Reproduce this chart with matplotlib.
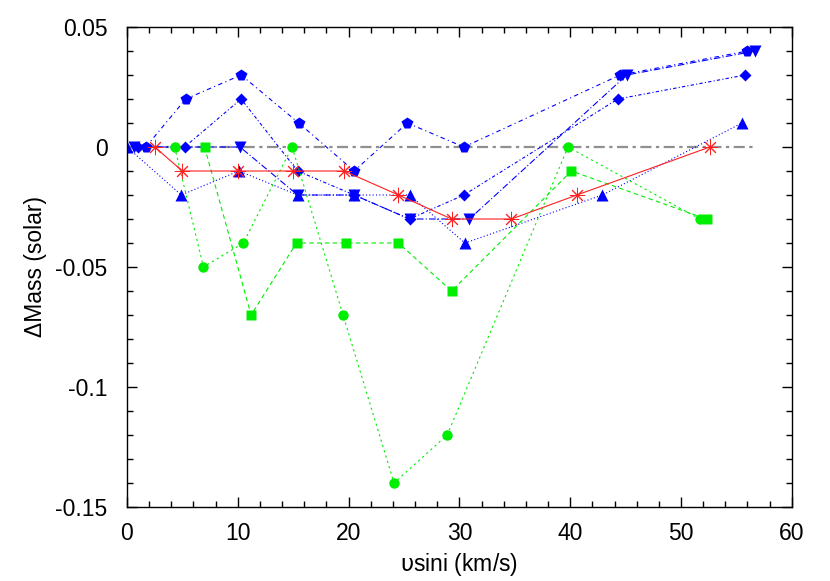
import numpy as np
import matplotlib
matplotlib.use("Agg")
import matplotlib.pyplot as plt
from matplotlib.ticker import MultipleLocator

plt.rcParams["font.family"] = ["Liberation Sans", "DejaVu Sans"]
plt.rcParams["mathtext.fontset"] = "dejavusans"

# reference line
ref_x = [0.0, 56.5]
ref_y = [0.0, 0.0]

# red asterisks
red_x = [2.5, 5.0, 10.0, 15.0, 19.6, 24.5, 29.3, 34.7, 40.6, 52.6]
red_y = [0.0, -0.01, -0.01, -0.01, -0.01, -0.02, -0.03, -0.03, -0.02, 0.0]

# green circles
circ_x = [4.3, 6.9, 10.5, 14.9, 19.5, 24.1, 28.9, 39.8, 51.7]
circ_y = [0.0, -0.05, -0.04, 0.0, -0.07, -0.14, -0.12, 0.0, -0.03]

# green squares
sq_x = [7.0, 11.2, 15.3, 19.8, 24.5, 29.3, 40.1, 52.3]
sq_y = [0.0, -0.07, -0.04, -0.04, -0.04, -0.06, -0.01, -0.03]

# blue pentagons
pent_x = [1.7, 5.3, 10.3, 15.5, 20.5, 25.3, 30.4, 44.5, 56.0]
pent_y = [0.0, 0.02, 0.03, 0.01, -0.01, 0.01, 0.0, 0.03, 0.04]

# blue diamonds
diam_x = [1.0, 5.2, 10.3, 15.4, 20.5, 25.5, 30.4, 44.3, 55.8]
diam_y = [0.0, 0.0, 0.02, -0.01, -0.02, -0.03, -0.02, 0.02, 0.03]

# blue down triangles
dtri_x = [0.6, 10.2, 15.4, 20.5, 25.5, 30.9, 45.1, 56.7]
dtri_y = [0.0, 0.0, -0.02, -0.02, -0.03, -0.03, 0.03, 0.04]

# blue up triangles
utri_x = [0.0, 4.9, 10.1, 15.4, 20.5, 25.5, 30.5, 42.9, 55.5]
utri_y = [0.0, -0.02, -0.01, -0.02, -0.02, -0.02, -0.04, -0.02, 0.01]

fig = plt.figure(figsize=(8.3, 5.81), dpi=100)
ax = fig.add_axes([0.153, 0.1274, 0.801, 0.8261])

ax.plot(ref_x, ref_y, color="#909090", lw=1.6, ls=(0, (5, 2, 1.5, 2)))

blue = "#0000ff"
ax.plot(utri_x, utri_y, color=blue, lw=0.8, ls=(0, (1, 2)),
        marker="^", ms=8, mec="none")
ax.plot(dtri_x, dtri_y, color=blue, lw=0.8, ls=(0, (6, 2, 1, 2)),
        marker="v", ms=8, mec="none")
ax.plot(diam_x, diam_y, color=blue, lw=0.8, ls=(0, (3, 2, 1, 2)),
        marker="D", ms=6.5, mec="none")
ax.plot(pent_x, pent_y, color=blue, lw=0.8, ls=(0, (4, 3, 1, 3)),
        marker="p", ms=8.5, mec="none")

green = "#00ee00"
ax.plot(sq_x, sq_y, color=green, lw=0.8, ls=(0, (4, 3)),
        marker="s", ms=7.5, mec="none")
ax.plot(circ_x, circ_y, color=green, lw=0.8, ls=(0, (2, 3)),
        marker="o", ms=7.5, mec="none")

ax.plot(red_x, red_y, color="#ff2020", lw=0.8, ls="-",
        marker=(8, 2, 0), ms=11, mew=0.7)

ax.set_xlim(0, 60)
ax.set_ylim(-0.15, 0.05)
ax.xaxis.set_major_locator(MultipleLocator(10))
ax.xaxis.set_minor_locator(MultipleLocator(2))
ax.yaxis.set_major_locator(MultipleLocator(0.05))
ax.yaxis.set_minor_locator(MultipleLocator(0.01))
ax.set_yticks([-0.15, -0.1, -0.05, 0, 0.05])
ax.set_yticklabels(["-0.15", "-0.1", "-0.05", "0", "0.05"])

ax.tick_params(which="both", direction="in", top=True, right=True,
               labelsize=16.5, width=1)
ax.tick_params(which="major", length=7)
ax.tick_params(axis="y", which="major", pad=14)
ax.tick_params(axis="x", which="major", pad=11)
ax.tick_params(which="minor", length=4)
for s in ax.spines.values():
    s.set_linewidth(1)

ax.set_xlabel(r"$\mathrm{\upsilon}$sini (km/s)", fontsize=16.5, labelpad=4)
ax.set_ylabel("\u0394Mass (solar)", fontsize=16.5, labelpad=6)

fig.savefig("out.png", dpi=100)
